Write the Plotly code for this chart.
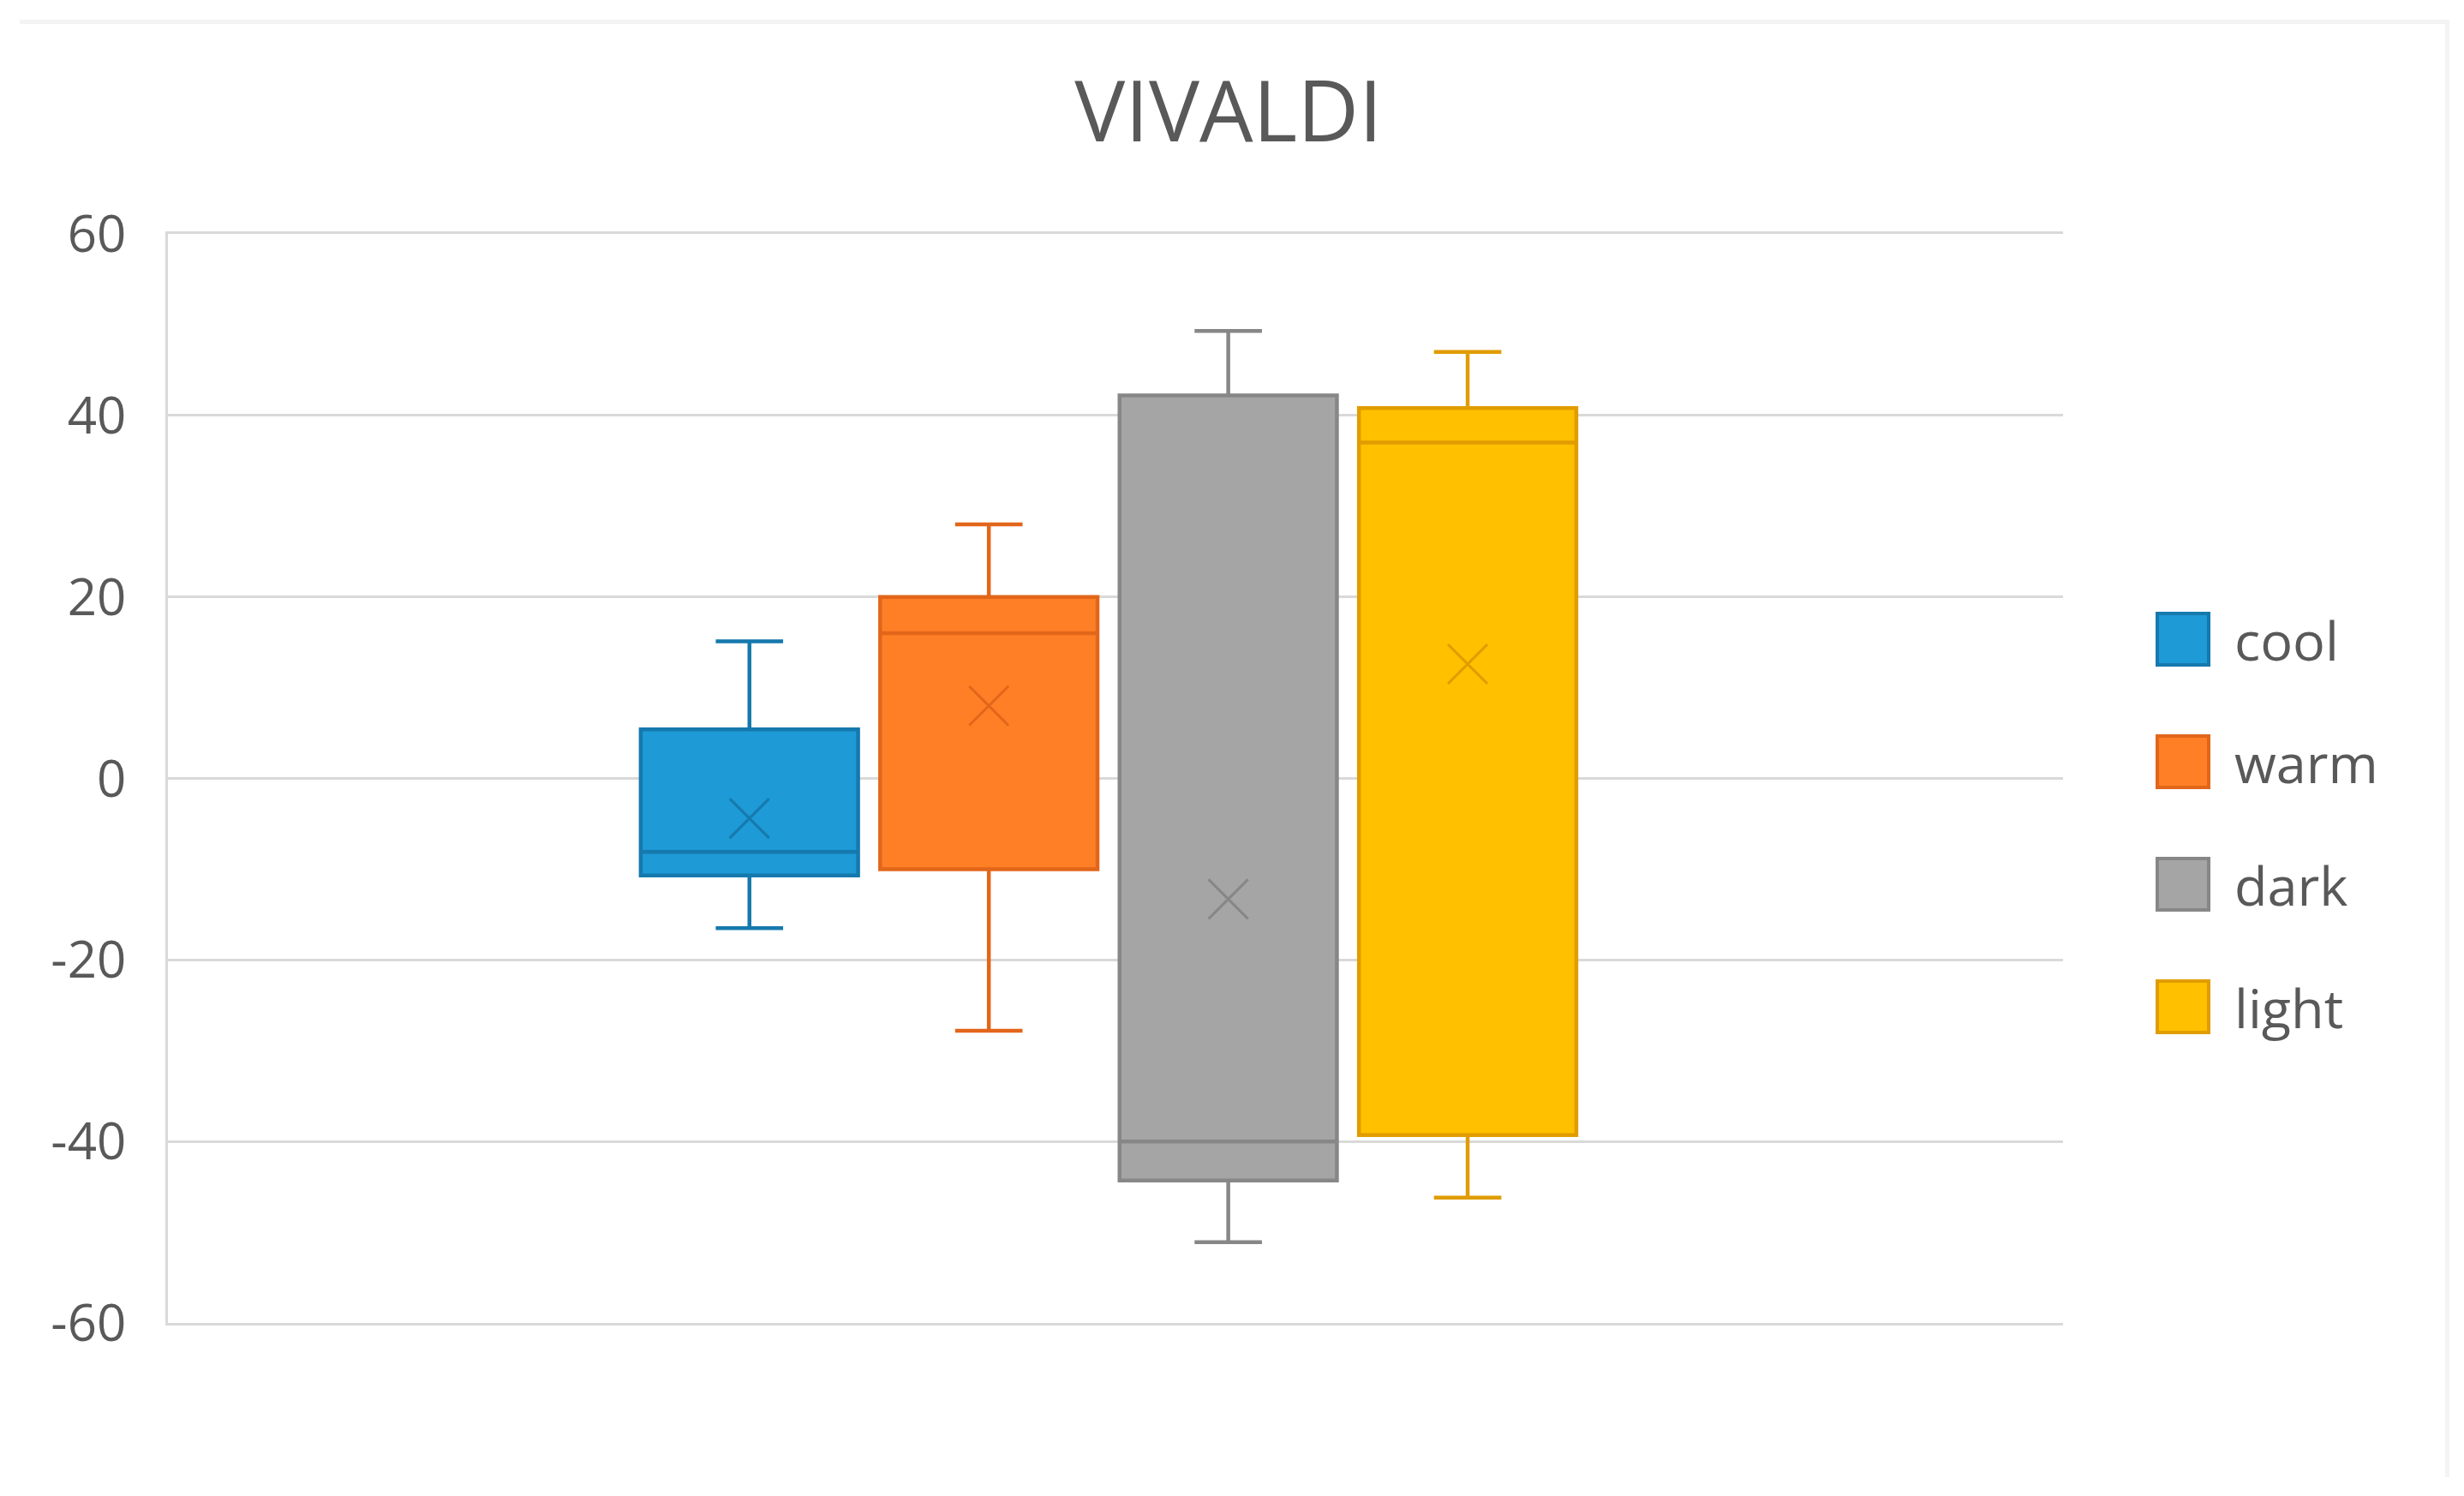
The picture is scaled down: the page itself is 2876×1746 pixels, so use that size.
import plotly.graph_objects as go

# ---------------- data ----------------
title_text = "VIVALDI"
names = ["cool", "warm", "dark", "light"]
lower_whisker = [-16.5, -27.8, -51.1, -46.2]
q1_values = [-10.7, -10.0, -44.3, -39.3]
median_values = [-8.1, 16.0, -40.0, 37.0]
q3_values = [5.4, 20.0, 42.2, 40.8]
upper_whisker = [15.1, 28.0, 49.3, 47.0]
mean_values = [-4.4, 8.0, -13.3, 12.6]
y_ticks = [-60, -40, -20, 0, 20, 40, 60]

# ---------------- style ----------------
fill_colors = ["#1E9AD6", "#FF7F27", "#A5A5A5", "#FFC000"]
line_colors = ["#1679AD", "#E2661A", "#878787", "#E09C00"]
text_color = "#595959"
grid_color = "#D9D9D9"
font_family = "Open Sans"

W, H = 2876, 1746
ML, MR, MT, MB = 196, 468, 273, 202
PW = W - ML - MR
PH = H - MT - MB


def px_x(px):
    return (px - ML) / PW


def px_y(py):
    return (H - MB - py) / PH


fig = go.Figure()

for i, name in enumerate(names):
    fig.add_trace(go.Box(
        name=name,
        x=[name],
        q1=[q1_values[i]],
        median=[median_values[i]],
        q3=[q3_values[i]],
        lowerfence=[lower_whisker[i]],
        upperfence=[upper_whisker[i]],
        fillcolor=fill_colors[i],
        line=dict(color=line_colors[i], width=4.5),
        whiskerwidth=0.31,
        boxpoints=False,
        showlegend=False,
        hoverinfo="skip",
    ))

for i, name in enumerate(names):
    fig.add_trace(go.Scatter(
        x=[name],
        y=[mean_values[i]],
        mode="markers",
        marker=dict(symbol="x-thin", size=46,
                    line=dict(color=line_colors[i], width=3)),
        showlegend=False,
        hoverinfo="skip",
    ))

# custom legend (large swatches like the original)
legend_top_px = 746
legend_step_px = 143
sw = 60
sw_left = 2518
for i, name in enumerate(names):
    cy = legend_top_px + i * legend_step_px
    fig.add_shape(type="rect", xref="paper", yref="paper",
                  x0=px_x(sw_left), x1=px_x(sw_left + sw),
                  y0=px_y(cy - sw / 2), y1=px_y(cy + sw / 2),
                  fillcolor=fill_colors[i],
                  line=dict(color=line_colors[i], width=4))
    fig.add_annotation(xref="paper", yref="paper",
                       x=px_x(2606), y=px_y(cy),
                       xanchor="left", yanchor="middle",
                       text=name, showarrow=False,
                       font=dict(family=font_family, size=63, color=text_color))

# faint chart-area border (top and right edges only)
fig.add_shape(type="line", xref="paper", yref="paper",
              x0=px_x(23), x1=px_x(2859), y0=px_y(25.5), y1=px_y(25.5),
              line=dict(color="#F4F4F4", width=5), layer="below")
fig.add_shape(type="line", xref="paper", yref="paper",
              x0=px_x(2856.5), x1=px_x(2856.5), y0=px_y(23), y1=px_y(1724),
              line=dict(color="#F4F4F4", width=5), layer="below")

fig.update_layout(
    width=W, height=H,
    margin=dict(l=ML, r=MR, t=MT, b=MB),
    paper_bgcolor="white", plot_bgcolor="white",
    boxmode="overlay", boxgap=0.092, boxgroupgap=0,
    title=dict(text=title_text, x=0.4986, xref="container", xanchor="center",
               y=1 - 130 / H, yref="container", yanchor="middle",
               font=dict(family=font_family, size=99, color=text_color)),
    font=dict(family=font_family, color=text_color),
    showlegend=False,
)

fig.update_xaxes(
    type="category", range=[-2.429, 5.487],
    showticklabels=False, showgrid=False, zeroline=False,
    showline=True, mirror=True, linecolor=grid_color, linewidth=2.5,
    ticks="",
)
fig.update_yaxes(
    range=[-60, 60], tickvals=y_ticks, ticktext=[str(v) for v in y_ticks],
    showgrid=True, gridcolor=grid_color, gridwidth=2.5,
    zeroline=False, showline=True, linecolor=grid_color, linewidth=2.5,
    ticks="", ticklabelstandoff=34,
    tickfont=dict(family=font_family, size=60, color=text_color),
)

fig.write_html("out.html",
               config={"displayModeBar": False},
               post_script="document.body.style.margin='0';document.body.style.overflow='hidden';")
